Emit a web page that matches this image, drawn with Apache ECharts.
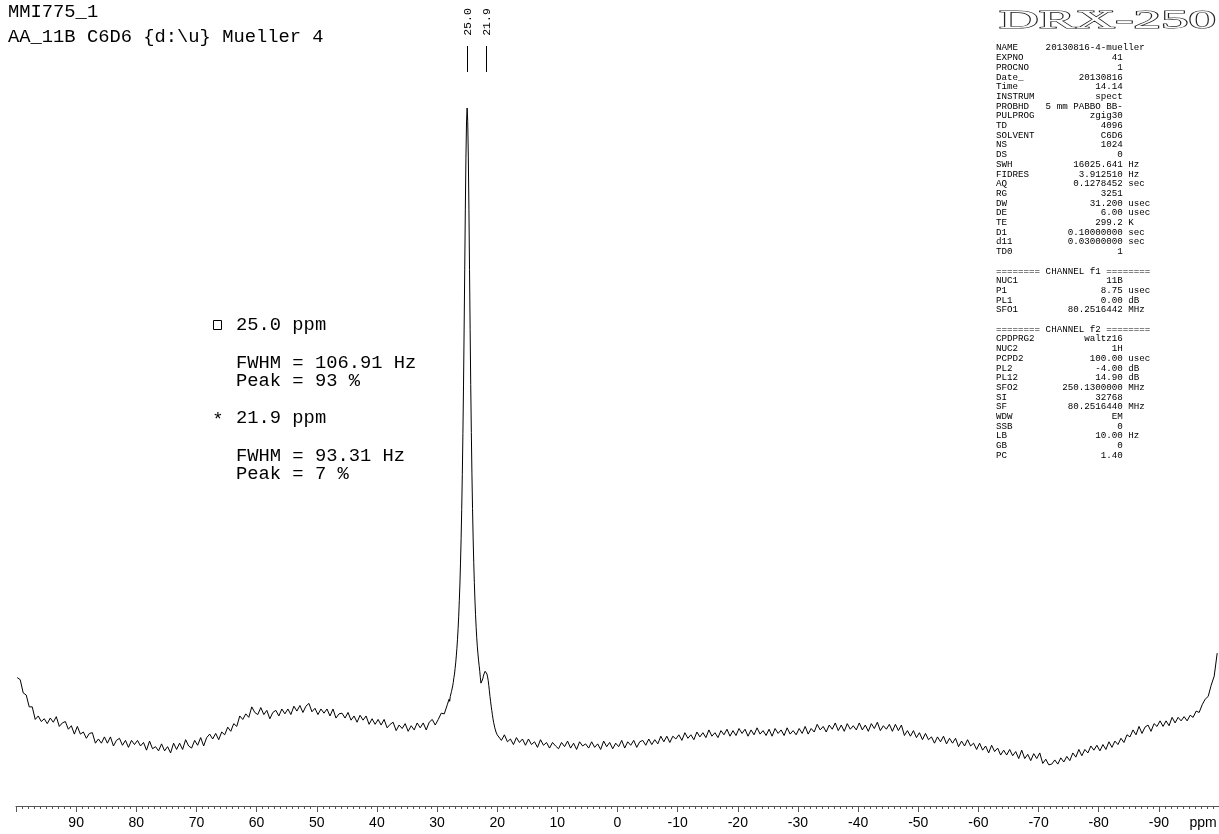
<!DOCTYPE html>
<html><head><meta charset="utf-8">
<script src="https://cdn.jsdelivr.net/npm/echarts@6/dist/echarts.min.js"></script>
<style>html,body{margin:0;padding:0;background:#fff}#c{width:1219px;height:834px}</style>
</head><body><div id="c"></div>
<script>
// ---- spectrum values (11B, ppm) ----
const baseLeftStart = 99.8;   // ppm of first point, step 0.5 ppm
const baseStep = 0.5;
const baseLeft = [
 18.4,18.1,16.2,15.9,14.2,14.2,12.4,12.9,12.1,12.5,
 11.8,12.6,12.0,12.8,11.4,11.9,12.1,11.0,11.5,10.3,
 11.4,10.3,10.6,9.7,10.4,10.5,9.0,9.6,9.0,9.9,
 9.0,9.9,8.6,9.4,9.7,8.7,9.4,8.4,9.4,8.8,
 9.4,8.6,9.1,8.0,9.3,8.2,8.5,7.9,8.9,7.9,
 8.5,7.6,9.0,8.1,9.0,8.1,9.5,8.6,8.3,9.4,
 8.7,9.8,8.6,9.8,10.3,9.6,10.4,9.5,10.6,10.2,
 11.3,10.7,11.8,11.4,12.9,12.4,13.2,12.7,14.2,13.4,
 13.1,14.1,13.1,13.7,12.5,13.4,13.7,12.9,13.9,13.2,
 13.9,13.1,14.3,13.6,14.4,13.4,14.3,14.7,13.5,14.0,
 13.1,13.9,13.3,13.9,12.9,13.9,12.6,13.2,13.3,12.6,
 13.4,12.3,12.9,12.0,13.0,12.3,12.9,11.7,12.5,11.7,
 12.4,11.6,12.4,11.2,11.7,12.0,10.8,11.6,11.1,11.8,
 10.7,11.5,10.9,11.9,11.2,11.9,10.9,12.0,12.4,11.6,
 12.4,13.3,13.2,14.5
];
const peakStart = 28.0;       // step 0.1 ppm
const peakStep = 0.1;
const peakRegion = [
 15.3,15.0,15.7,15.8,16.4,16.6,17.2,17.7,18.4,18.9,
 19.7,20.5,21.5,22.6,23.9,25.4,27.2,29.4,31.8,34.8,
 38.3,42.5,47.5,53.4,60.3,68.2,76.8,85.4,92.8,98.0,
 100.0,98.1,93.0,85.5,76.9,68.3,60.4,53.5,47.6,42.6,
 38.4,34.9,32.0,29.5,27.4,25.6,24.1,22.8,21.8,20.9,
 20.1,19.3,18.4,17.6,17.4,17.7,18.2,18.6,18.9,19.1,
 19.3,19.4,19.2,18.9,18.5,18.0,17.3,16.5,15.7,15.0,
 14.3,13.7,13.1,12.5,12.0,11.6,11.2,10.9,10.6,10.4,
 10.2
];
const baseRightStart = 19.8;  // step 0.5 ppm
const baseRight = [
 10.3,9.4,10.2,9.2,9.6,8.8,9.8,9.1,9.6,8.7,
 9.6,8.8,9.2,8.4,9.5,8.7,9.1,8.3,9.1,8.6,
 8.2,9.1,8.5,9.3,8.3,9.0,8.1,9.2,8.6,8.9,
 8.3,9.2,8.4,8.9,8.1,9.3,8.5,9.1,8.2,9.0,
 8.5,9.4,8.3,9.2,8.7,9.4,8.4,9.2,9.4,8.7,
 9.6,8.8,9.5,8.9,10.0,9.2,10.0,9.1,10.0,9.6,
 10.2,9.4,10.5,9.7,10.2,9.5,10.6,9.9,10.5,9.8,
 10.9,10.0,10.5,9.8,10.8,10.2,11.0,10.0,10.8,10.1,
 11.1,10.4,11.0,10.0,10.9,10.2,11.2,10.3,10.8,10.1,
 11.0,10.0,11.1,10.4,10.9,10.1,11.2,10.3,10.8,10.2,
 11.1,10.4,11.4,10.3,11.1,10.6,11.7,10.9,11.4,10.6,
 11.6,11.0,11.9,10.8,11.6,10.7,11.8,11.0,11.5,10.9,
 11.9,10.9,11.6,10.7,11.8,11.1,12.0,10.8,11.5,11.0,
 11.7,10.7,11.7,10.8,11.6,10.1,10.8,10.0,10.8,9.8,
 10.5,9.5,10.4,9.5,9.9,9.0,9.9,9.2,10.0,8.9,
 9.7,9.0,9.7,8.5,9.3,8.6,9.5,8.6,9.0,8.1,
 9.0,8.0,8.6,7.6,8.7,7.8,8.3,7.3,8.0,7.3,
 8.1,7.2,7.8,6.8,8.0,6.8,7.4,6.5,7.5,6.8,
 7.6,6.1,6.7,5.9,6.0,6.6,6.0,6.9,6.3,7.1,
 6.5,7.6,7.0,8.1,7.2,8.1,7.6,8.6,8.0,8.7,
 7.9,8.8,8.1,9.2,8.4,9.3,8.8,9.7,9.1,10.2,
 9.9,10.9,10.2,11.4,10.4,11.3,11.6,10.7,11.8,11.4,
 12.2,11.4,12.2,11.5,12.7,11.9,12.7,12.2,12.8,12.2,
 13.0,12.7,13.6,13.4,14.5,15.3,15.7,17.3,18.6,21.9
];

// ---- axis ----
const xMin = -100, xMax = 100, xInterval = 10;
const axisUnit = 'ppm';

// ---- annotations ----
const titleLines = ['MMI775_1', 'AA_11B C6D6 {d:\\u} Mueller 4'];
const peakPositions = [25.0, 21.9];
const peakMarks = ['box', '*'];
const peakShiftLabels = ['25.0 ppm', '21.9 ppm'];
const peakFwhm = ['FWHM = 106.91 Hz', 'FWHM = 93.31 Hz'];
const peakPercent = ['Peak = 93 %', 'Peak = 7 %'];
const instrumentName = 'DRX-250';
const paramNames = ['NAME','EXPNO','PROCNO','Date_','Time','INSTRUM','PROBHD','PULPROG','TD','SOLVENT','NS','DS','SWH','FIDRES','AQ','RG','DW','DE','TE','D1','d11','TD0',
  '', '======== CHANNEL f1 ========','NUC1','P1','PL1','SFO1',
  '', '======== CHANNEL f2 ========','CPDPRG2','NUC2','PCPD2','PL2','PL12','SFO2','SI','SF','WDW','SSB','LB','GB','PC'];
const paramValues = ['20130816-4-mueller','41','1','20130816','14.14','spect','5 mm PABBO BB-','zgig30','4096','C6D6','1024','0','16025.641','3.912510','0.1278452','3251','31.200','6.00','299.2','0.10000000','0.03000000','1',
  '', '', '11B','8.75','0.00','80.2516442',
  '', '', 'waltz16','1H','100.00','-4.00','14.90','250.1300000','32768','80.2516440','EM','0','10.00','0','1.40'];
const paramUnits = ['','','','','','','','','','','','','Hz','Hz','sec','','usec','usec','K','sec','sec','',
  '', '', '','usec','dB','MHz',
  '', '', '','','usec','dB','dB','MHz','','MHz','','','Hz','',''];

// ---- build series data ----
const spectrum = [];
baseLeft.forEach((v, i) => spectrum.push([+(baseLeftStart - i * baseStep).toFixed(2), v]));
peakRegion.forEach((v, i) => spectrum.push([+(peakStart - i * peakStep).toFixed(2), v]));
baseRight.forEach((v, i) => spectrum.push([+(baseRightStart - i * baseStep).toFixed(2), v]));

const chart = echarts.init(document.getElementById('c'));
chart.setOption({
  animation: false,
  backgroundColor: '#ffffff',
  grid: { left: 16, right: 0, top: 108, bottom: 28 },
  xAxis: {
    type: 'value', min: xMin, max: xMax, interval: xInterval, inverse: true,
    axisLine: { show: true, onZero: false, lineStyle: { color: '#555', width: 1 } },
    axisTick: { show: true, length: 6, lineStyle: { color: '#555' } },
    minorTick: { show: true, splitNumber: 10, length: 3, lineStyle: { color: '#555' } },
    splitLine: { show: false },
    axisLabel: { showMinLabel: false, showMaxLabel: false, margin: 10, color: '#000',
      fontFamily: 'Liberation Sans', fontSize: 14 }
  },
  yAxis: { type: 'value', min: 0, max: 100, show: false },
  series: [{
    type: 'line', data: spectrum, symbol: 'none', showSymbol: false, clip: false,
    lineStyle: { color: '#000', width: 1 }
  }]
});

const px = v => chart.convertToPixel({ xAxisIndex: 0 }, v);
const g = [];
const mono = '"Liberation Mono", monospace';

// title
titleLines.forEach((t, i) => g.push({ type: 'text', x: 8, y: 12 + i * 25,
  style: { text: t, font: '18.8px ' + mono, fill: '#000', align: 'left', verticalAlign: 'middle' } }));

// peak pick markers
peakPositions.forEach(p => {
  const x = Math.round(px(p)) + 0.5;
  g.push({ type: 'line', shape: { x1: x, y1: 46, x2: x, y2: 72 }, style: { stroke: '#000', lineWidth: 1 } });
  g.push({ type: 'text', x: x, y: 22, rotation: Math.PI / 2,
    style: { text: p.toFixed(1), font: '11.5px ' + mono, fill: '#000', align: 'center', verticalAlign: 'middle' } });
});

// peak notes
peakPositions.forEach((p, i) => {
  const y0 = 325 + i * 93;
  if (peakMarks[i] === 'box') {
    g.push({ type: 'rect', shape: { x: 213.5, y: y0 - 4.5, width: 8, height: 9 }, style: { fill: 'none', stroke: '#000', lineWidth: 1 } });
  } else {
    g.push({ type: 'text', x: 218, y: y0 + 2, style: { text: peakMarks[i], font: '18.8px ' + mono, fill: '#000', align: 'center', verticalAlign: 'middle' } });
  }
  g.push({ type: 'text', x: 236, y: y0, style: { text: peakShiftLabels[i], font: '18.8px ' + mono, fill: '#000', align: 'left', verticalAlign: 'middle' } });
  g.push({ type: 'text', x: 236, y: y0 + 38, style: { text: peakFwhm[i], font: '18.8px ' + mono, fill: '#000', align: 'left', verticalAlign: 'middle' } });
  g.push({ type: 'text', x: 236, y: y0 + 56, style: { text: peakPercent[i], font: '18.8px ' + mono, fill: '#000', align: 'left', verticalAlign: 'middle' } });
});

// instrument logo
const ctx = document.createElement('canvas').getContext('2d');
ctx.font = '26px "Liberation Serif"';
const logoW = ctx.measureText(instrumentName).width;
g.push({ type: 'text', x: 999, y: 21, scaleX: 217 / logoW,
  style: { text: instrumentName, font: '26px "Liberation Serif"', fill: '#fff', stroke: '#222', lineWidth: 1.2, align: 'left', verticalAlign: 'middle' } });

// parameter block
const lines = paramNames.map((n, i) => {
  if (n === '') return ' ';
  if (n.startsWith('=')) return n;
  return n.padEnd(9) + paramValues[i].padStart(14) + (paramUnits[i] ? ' ' + paramUnits[i] : '');
});
lines.forEach((l, i) => g.push({ type: 'text', x: 996, y: 48 + i * 9.7,
  style: { text: l, font: '9.2px ' + mono, fill: '#000', align: 'left', verticalAlign: 'middle' } }));

// axis unit
g.push({ type: 'text', x: 1203, y: 823, style: { text: axisUnit, font: '14px "Liberation Sans"', fill: '#000', align: 'center', verticalAlign: 'middle' } });

chart.setOption({ graphic: g });
</script>
</body></html>
